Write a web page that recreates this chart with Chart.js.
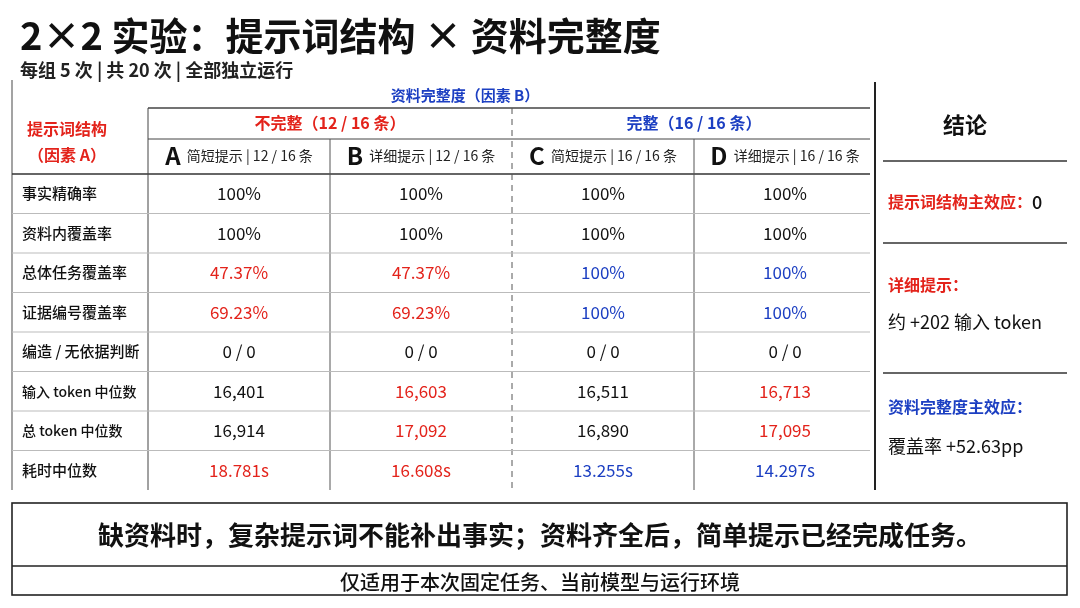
<!DOCTYPE html>
<html><head><meta charset="utf-8">
<script src="https://cdn.jsdelivr.net/npm/chart.js@4"></script>
<style>html,body{margin:0;background:#fff}#c{display:block}</style>
</head><body>
<canvas id="c" width="1080" height="608"></canvas>
<script>
const rowLabels=["事实精确率","资料内覆盖率","总体任务覆盖率","证据编号覆盖率","编造 / 无依据判断","输入 token 中位数","总 token 中位数","耗时中位数"];
const groups=["A","B","C","D"];
const groupNames=["简短提示 | 12 / 16 条","详细提示 | 12 / 16 条","简短提示 | 16 / 16 条","详细提示 | 16 / 16 条"];
const colA=["100%","100%","47.37%","69.23%","0 / 0","16,401","16,914","18.781s"];
const colB=["100%","100%","47.37%","69.23%","0 / 0","16,603","17,092","16.608s"];
const colC=["100%","100%","100%","100%","0 / 0","16,511","16,890","13.255s"];
const colD=["100%","100%","100%","100%","0 / 0","16,713","17,095","14.297s"];
// colour codes: k=black, r=red, b=blue
const tA="kkrrkkkr", tB="kkrrkrrr", tC="kkbbkkkb", tD="kkbbkrrb";
const RED="#e3231b", BLUE="#1c3fc2", INK="#111";
const F='"Noto Sans CJK SC","Noto Sans",sans-serif';
const cols=[colA,colB,colC,colD], tones=[tA,tB,tC,tD];
const tone=c=>c==="r"?RED:c==="b"?BLUE:INK;

function txt(ctx,s,x,y,size,color,weight,align){ctx.font=(weight||"normal")+" "+size+"px "+F;ctx.fillStyle=color||INK;ctx.textAlign=align||"left";ctx.textBaseline="middle";ctx.fillText(s,x,y);}
function line(ctx,x1,y1,x2,y2,c,w,dash){ctx.save();ctx.strokeStyle=c;ctx.lineWidth=w;ctx.setLineDash(dash||[]);ctx.beginPath();ctx.moveTo(x1,y1);ctx.lineTo(x2,y2);ctx.stroke();ctx.restore();}

const tablePlugin={id:"table",afterDraw(chart){
  const ctx=chart.ctx, xs=chart.scales.x, ys=chart.scales.y, a=chart.chartArea;
  const rh=ys.getPixelForValue(1)-ys.getPixelForValue(0);
  txt(ctx,"2×2 实验：提示词结构 × 资料完整度",20,36,38,INK,"bold");
  txt(ctx,"每组 5 次 | 共 20 次 | 全部独立运行",20,70,18,"#222","bold");
  line(ctx,12,80,12,490,"#666",1.2);
  line(ctx,875,82,875,490,"#222",2);
  txt(ctx,"资料完整度（因素 B）",465,95,15,BLUE,"bold","center");
  line(ctx,a.left,108,a.right-6,108,"#444",1.3);
  line(ctx,a.left,139,a.right-6,139,"#444",1);
  line(ctx,12,a.top,a.right-6,a.top,"#333",1.3);
  line(ctx,a.left,108,a.left,a.bottom,"#444",1);
  const mid=xs.getPixelForValue(1.5);
  line(ctx,mid,108,mid,a.bottom,"#555",1,[6,5]);
  [0.5,2.5].forEach(v=>{const x=xs.getPixelForValue(v);line(ctx,x,139,x,a.bottom,"#555",1);});
  txt(ctx,"不完整（12 / 16 条）",xs.getPixelForValue(0.5),123,16,RED,"bold","center");
  txt(ctx,"完整（16 / 16 条）",xs.getPixelForValue(2.5),123,16,BLUE,"bold","center");
  txt(ctx,"提示词结构",67,129,16,RED,"bold","center");
  txt(ctx,"（因素 A）",67,155,16,RED,"bold","center");
  groups.forEach((g,i)=>{
    const cx=xs.getPixelForValue(i);
    ctx.font="bold 24px "+F;const w1=ctx.measureText(g).width;
    ctx.font="14px "+F;const w2=ctx.measureText("  "+groupNames[i]).width;
    const x0=cx-(w1+w2)/2;
    txt(ctx,g,x0,156,24,INK,"bold");
    txt(ctx,"  "+groupNames[i],x0+w1,156,14,"#222");
  });
  rowLabels.forEach((r,j)=>{
    const y=ys.getPixelForValue(j);
    if(j<rowLabels.length-1) line(ctx,12,y+rh/2,a.right-6,y+rh/2,"#bbb",1);
    txt(ctx,r,22,y,j>=5&&j<=6?14:15,INK,"500");
    cols.forEach((c,i)=>txt(ctx,c[j],xs.getPixelForValue(i),y,17,tone(tones[i][j]),"normal","center"));
  });
  txt(ctx,"结论",965,125,22,INK,"bold","center");
  [161,243,373].forEach(y=>line(ctx,883,y,1067,y,"#333",1.3));
  txt(ctx,"提示词结构主效应：",888,202,16,RED,"bold");
  ctx.font="bold 16px "+F;const w=ctx.measureText("提示词结构主效应：").width;
  txt(ctx,"0",888+w,202,18,INK,"500");
  txt(ctx,"详细提示：",888,285,16,RED,"bold");
  txt(ctx,"约 +202 输入 token",888,322,18,INK);
  txt(ctx,"资料完整度主效应：",888,407,16,BLUE,"bold");
  txt(ctx,"覆盖率 +52.63pp",888,446,18,INK);
  ctx.save();ctx.strokeStyle="#222";ctx.lineWidth=1.6;ctx.strokeRect(12,503,1055,92);ctx.restore();
  txt(ctx,"缺资料时，复杂提示词不能补出事实；资料齐全后，简单提示已经完成任务。",540,535,26,INK,"bold","center");
  line(ctx,12,566,1067,566,"#222",1.3);
  txt(ctx,"仅适用于本次固定任务、当前模型与运行环境",540,582,20,INK,"500","center");
}};

new Chart(document.getElementById("c"),{
  type:"bar",
  data:{labels:groups,datasets:[{data:[0,0,0,0],backgroundColor:"rgba(0,0,0,0)"}]},
  options:{responsive:false,animation:false,events:[],
    layout:{padding:{left:148,right:204,top:174,bottom:118}},
    plugins:{legend:{display:false},tooltip:{enabled:false}},
    scales:{x:{type:"category",display:false,offset:true},
            y:{type:"category",labels:rowLabels,display:false,offset:true}}},
  plugins:[tablePlugin]
});
</script>
</body></html>
